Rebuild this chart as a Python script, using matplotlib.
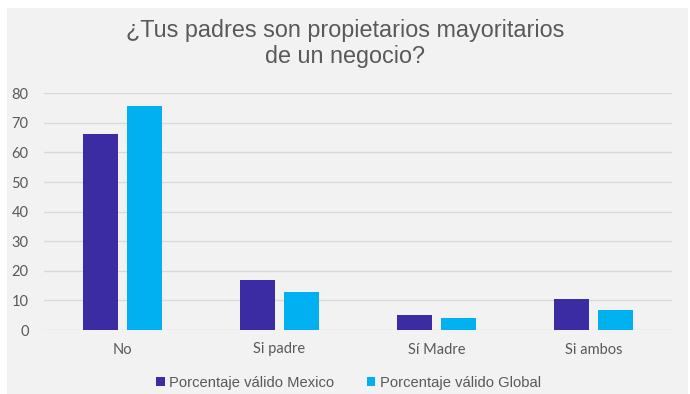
import numpy as np
import matplotlib.pyplot as plt
from matplotlib.patches import Rectangle

# datos
categorias = ["No", "Si padre", "Sí Madre", "Si ambos"]
mexico = [66.1, 16.9, 5.1, 10.6]
glob = [75.7, 12.9, 3.9, 6.6]
series = ["Porcentaje válido Mexico", "Porcentaje válido Global"]

col_mx = "#3b2ca3"
col_gl = "#00b0f0"
gris = "#595959"
fondo = "#f2f2f2"

fig = plt.figure(figsize=(6.9, 3.94), dpi=100)
fig.patches.append(Rectangle((7 / 690, 0), 681 / 690, 1 - 8 / 394,
                             transform=fig.transFigure, facecolor=fondo,
                             edgecolor="none", zorder=-10))

ax = fig.add_axes([44 / 690, 1 - 330 / 394, 628 / 690, (330 - 93.3) / 394])
ax.set_facecolor("none")

x = np.arange(len(categorias))
w = 0.223
d = 0.143
ax.bar(x - d, mexico, w, color=col_mx, label=series[0], zorder=3)
ax.bar(x + d, glob, w, color=col_gl, label=series[1], zorder=3)

ax.set_xlim(-0.5, len(categorias) - 0.5)
ax.set_ylim(0, 80)
ax.set_yticks(range(0, 81, 10))
ax.grid(axis="y", color="#d9d9d9", linewidth=1, zorder=0)
for s in ax.spines.values():
    s.set_visible(False)
ax.tick_params(length=0, colors=gris, labelsize=10.5)
ax.tick_params(axis="y", pad=11)
ax.tick_params(axis="x", pad=9)
ax.set_xticks(x)
ax.set_xticklabels(categorias, family="Lato")
for t in ax.get_yticklabels():
    t.set_family("Lato")

fig.text(0.5, 1 - 30 / 394, "¿Tus padres son propietarios mayoritarios",
         ha="center", va="center", fontsize=16.8, color=gris,
         family="Liberation Sans")
fig.text(0.5, 1 - 57 / 394, "de un negocio?",
         ha="center", va="center", fontsize=16.8, color=gris,
         family="Liberation Sans")

fig.legend(loc="center", bbox_to_anchor=(0.505, 1 - 383 / 394), ncol=2,
           frameon=False, handlelength=0.6, handleheight=0.6,
           handletextpad=0.3, columnspacing=2.2,
           prop={"family": "Liberation Sans", "size": 10.6},
           labelcolor=gris)

fig.savefig("out.png", dpi=100, facecolor="white")
